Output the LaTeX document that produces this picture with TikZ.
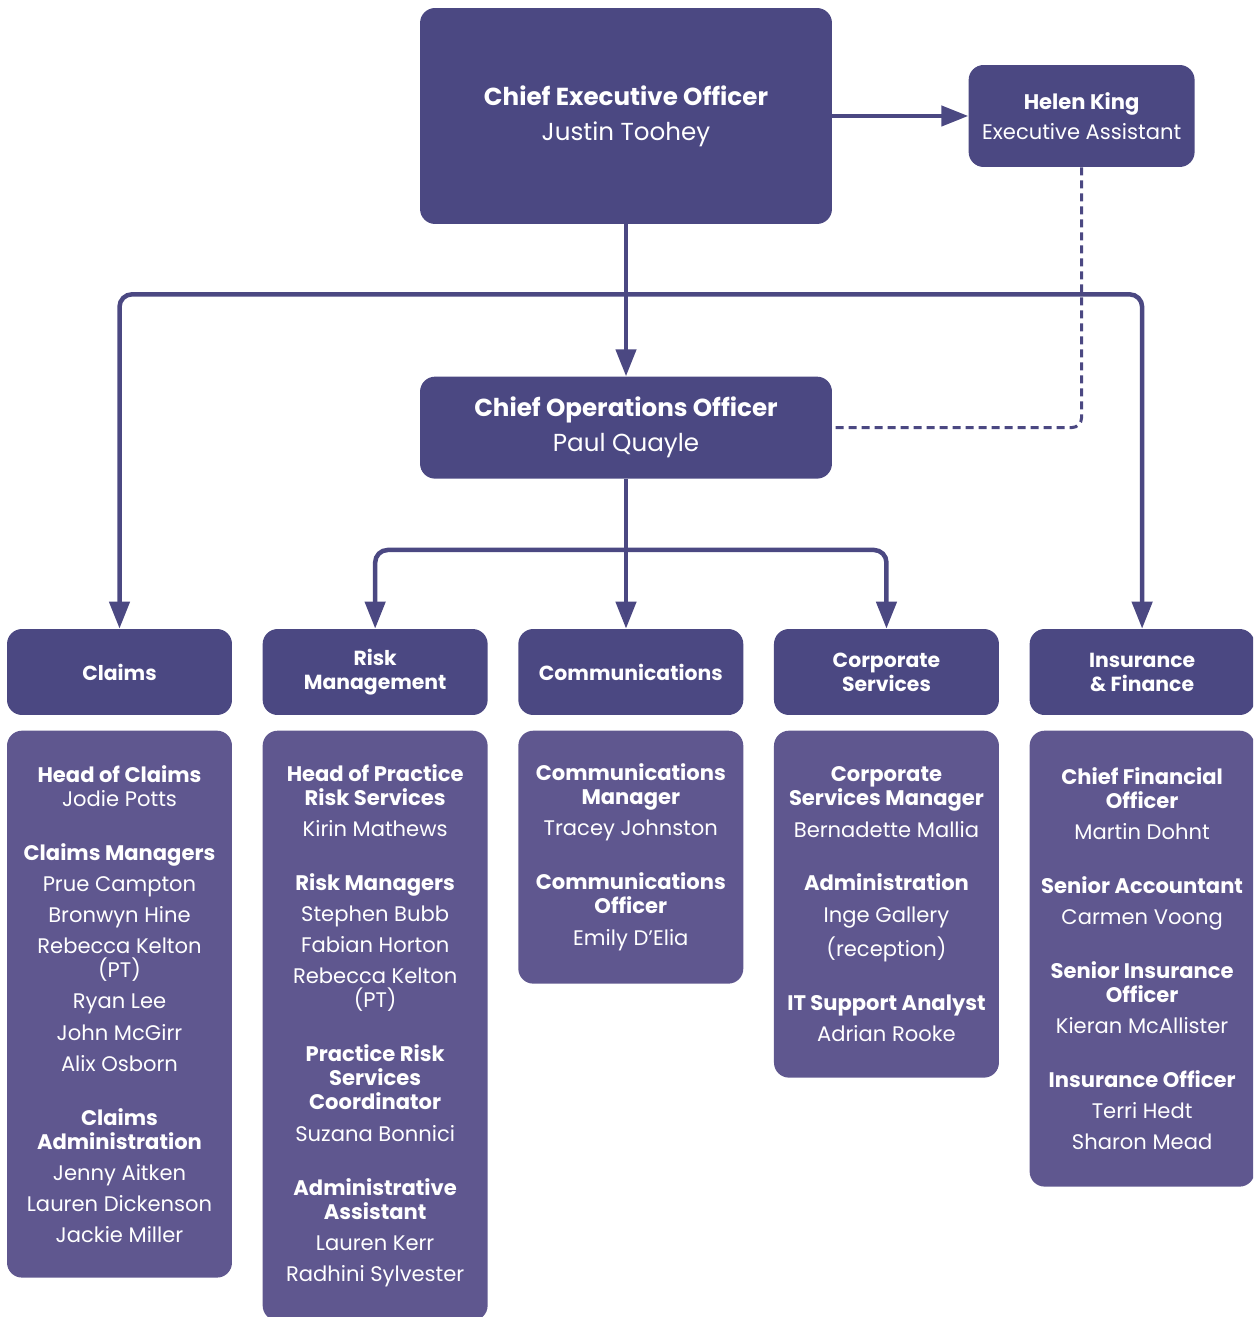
\documentclass[tikz,border=0pt]{standalone}
\usepackage{fontspec}
\setmainfont{Poppins}
\usetikzlibrary{positioning,arrows.meta}

\definecolor{headcol}{RGB}{75,72,130}
\definecolor{bodycol}{RGB}{95,87,143}
\newcommand{\namegap}{\\[4pt]}
\newcommand{\groupgap}{\\[17pt]}

\begin{document}
\begin{tikzpicture}[
        x=0.02cm, y=-0.02cm, % one unit is one pixel of the sketch
        node distance=0.6cm, % Gap between department boxes
        role/.style={fill=headcol, rounded corners=0.3cm, text=white, align=center, font=\fontsize{12}{17}\selectfont}, % Box styling
        dept/.style={fill=headcol, rounded corners=0.3cm, text=white, align=center, minimum width=4.5cm, minimum height=1.72cm, font=\bfseries\fontsize{11.6}{13.7}\selectfont}, % Box styling
        staff/.style={fill=bodycol, rounded corners=0.3cm, text=white, align=center, minimum width=4.5cm, font=\fontsize{12}{13.7}\selectfont}, % Box styling
        link/.style={draw=headcol, line width=0.09cm, rounded corners=0.25cm}, % Line styling
        headed/.style={-{Triangle[length=0.54cm,width=0.4cm]}}, % Arrow styling
        dashlink/.style={draw=headcol, line width=0.06cm, dash pattern=on 0.16cm off 0.1cm, rounded corners=0.2cm}
        ]
        \clip (0,0) rectangle (1253,1317);
        \useasboundingbox (0,0) rectangle (1253,1317);

        % Define nodes
        \node (ceo) [role, minimum width=8.24cm, minimum height=4.32cm, font=\fontsize{14}{20}\selectfont] at (626,116) {\textbf{Chief Executive Officer}\\Justin Toohey};
        \node (assistant) [role, minimum width=4.52cm, minimum height=2.04cm, right=2.72cm of ceo] {\textbf{Helen King}\\Executive Assistant};
        \node (coo) [role, minimum width=8.24cm, minimum height=2.04cm, below=3.04cm of ceo, font=\fontsize{14}{20}\selectfont] {\textbf{Chief Operations Officer}\\Paul Quayle};

        \node (claims) [dept] at (119.5,672) {Claims};
        \node (risk) [dept, right=of claims] {Risk\\Management};
        \node (comms) [dept, right=of risk] {Communications};
        \node (corporate) [dept, right=of comms] {Corporate\\Services};
        \node (insurance) [dept, right=of corporate] {Insurance\\\& Finance};

        \node (claimsstaff) [staff, minimum height=10.94cm, below=0.3cm of claims] {
            \textbf{Head of Claims}\\
            Jodie Potts\groupgap
            \textbf{Claims Managers}\namegap
            Prue Campton\namegap
            Bronwyn Hine\namegap
            Rebecca Kelton\\
            (PT)\namegap
            Ryan Lee\namegap
            John McGirr\namegap
            Alix Osborn\groupgap
            \textbf{Claims}\\\textbf{Administration}\namegap
            Jenny Aitken\namegap
            Lauren Dickenson\namegap
            Jackie Miller};
        \node (riskstaff) [staff, minimum height=11.8cm, below=0.3cm of risk] {
            \textbf{Head of Practice}\\\textbf{Risk Services}\namegap
            Kirin Mathews\groupgap
            \textbf{Risk Managers}\namegap
            Stephen Bubb\namegap
            Fabian Horton\namegap
            Rebecca Kelton\\
            (PT)\groupgap
            \textbf{Practice Risk}\\\textbf{Services}\\\textbf{Coordinator}\namegap
            Suzana Bonnici\groupgap
            \textbf{Administrative}\\\textbf{Assistant}\namegap
            Lauren Kerr\namegap
            Radhini Sylvester};
        \node (commsstaff) [staff, minimum height=5.06cm, below=0.3cm of comms] {
            \textbf{Communications}\\\textbf{Manager}\namegap
            Tracey Johnston\groupgap
            \textbf{Communications}\\\textbf{Officer}\namegap
            Emily D’Elia};
        \node (corporatestaff) [staff, minimum height=6.94cm, below=0.3cm of corporate] {
            \textbf{Corporate}\\\textbf{Services Manager}\namegap
            Bernadette Mallia\groupgap
            \textbf{Administration}\namegap
            Inge Gallery\namegap
            (reception)\groupgap
            \textbf{IT Support Analyst}\namegap
            Adrian Rooke};
        \node (insurancestaff) [staff, minimum height=9.12cm, below=0.3cm of insurance] {
            \textbf{Chief Financial}\\\textbf{Officer}\namegap
            Martin Dohnt\groupgap
            \textbf{Senior Accountant}\namegap
            Carmen Voong\groupgap
            \textbf{Senior Insurance}\\\textbf{Officer}\namegap
            Kieran McAllister\groupgap
            \textbf{Insurance Officer}\namegap
            Terri Hedt\namegap
            Sharon Mead};

        % Draw arrows
        \draw[link, headed] (ceo.east) -- (assistant.west);
        \draw[dashlink] (assistant.south) |- (coo.east);

        \path (ceo.south) ++(0,70) coordinate (topbus);
        \draw[link, headed] (ceo.south) -- (coo.north);
        \draw[link, headed] (topbus) -| (claims.north);
        \draw[link, headed] (topbus) -| (insurance.north);

        \path (coo.south) ++(0,71) coordinate (midbus);
        \draw[link, headed] (coo.south) -- (coo.south |- comms.north);
        \draw[link, headed] (midbus) -| (risk.north);
        \draw[link, headed] (midbus) -| (corporate.north);

    \end{tikzpicture}
\end{document}
